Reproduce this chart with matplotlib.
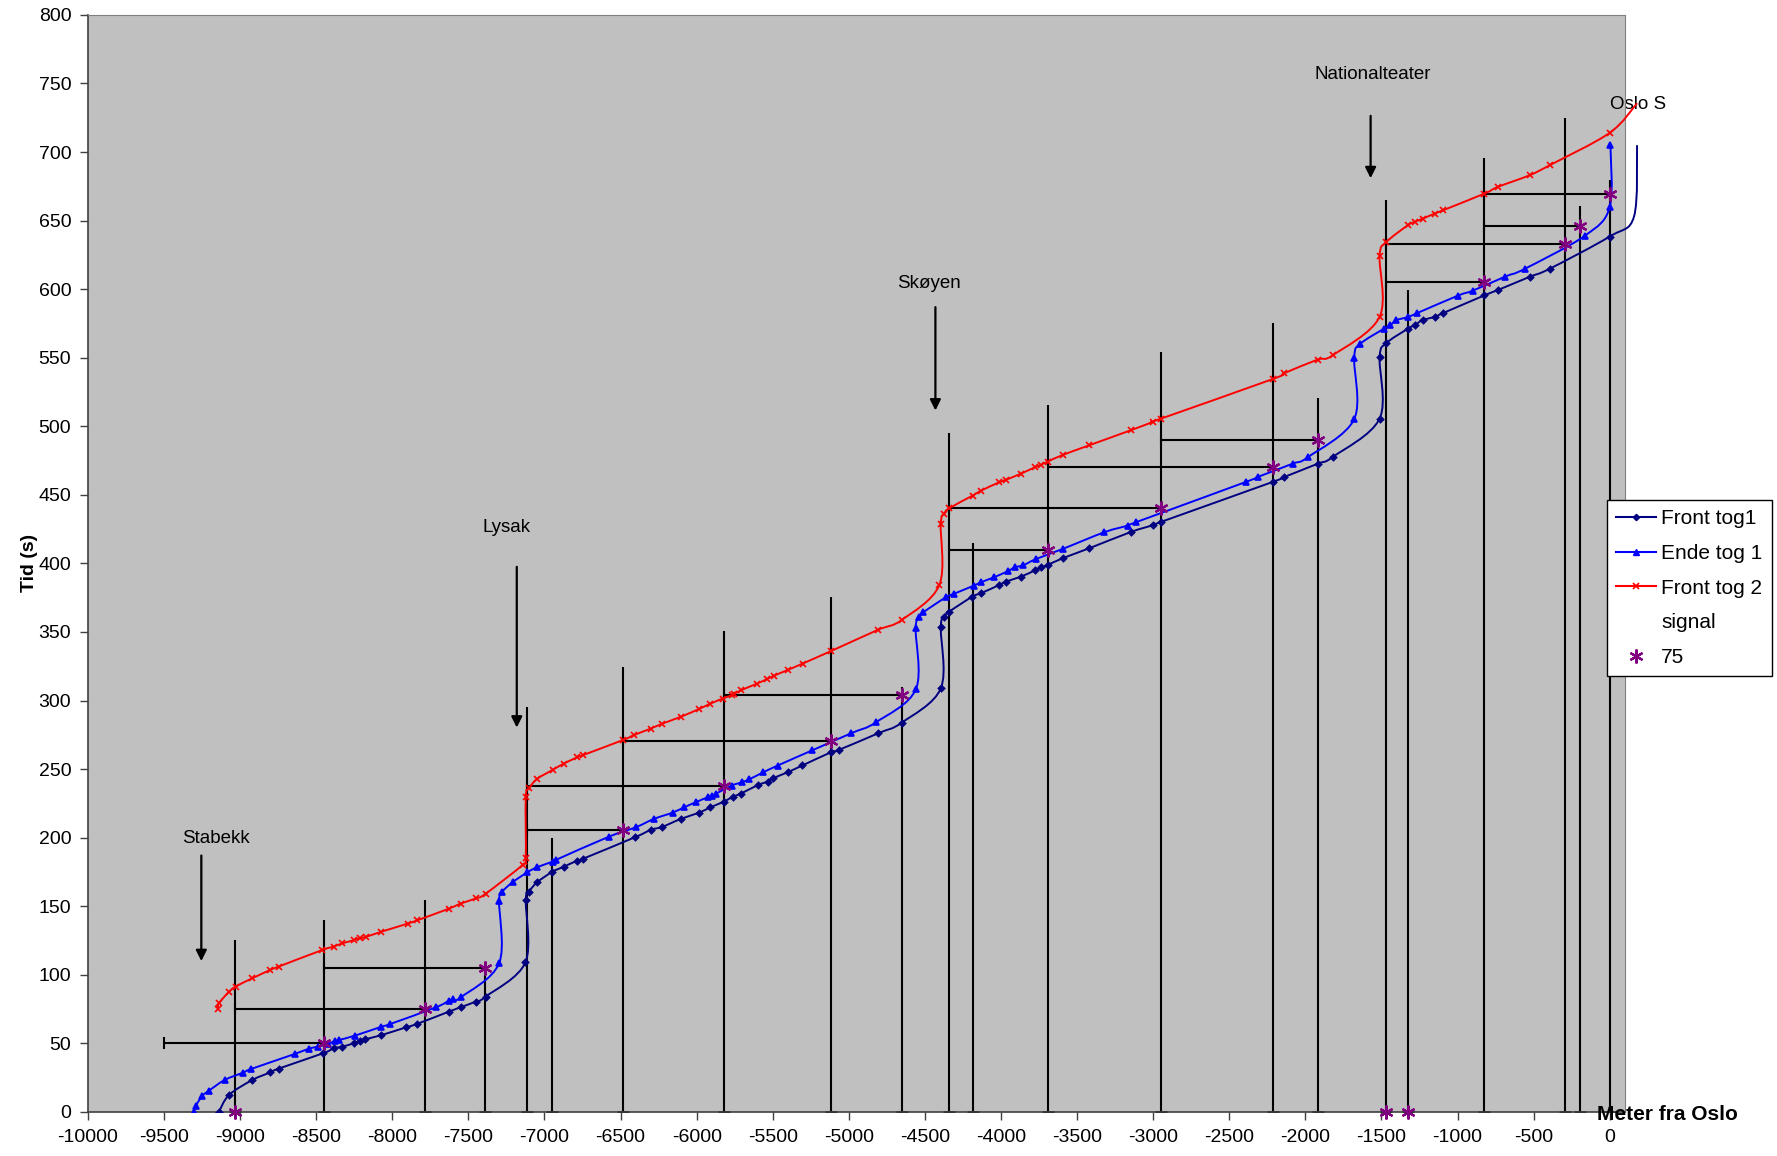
import numpy as np
import matplotlib
matplotlib.use("Agg")
import matplotlib.pyplot as plt
from matplotlib.path import Path
from matplotlib.patches import PathPatch
from matplotlib.lines import Line2D

plt.rcParams['font.family'] = ['Liberation Sans', 'DejaVu Sans']
plt.rcParams['axes.unicode_minus'] = False

# Front tog1: posisjon (m fra Oslo) og tid (s)
front1_x = [-9139, -9073, -8920, -8801, -8747, -8455, -8385, -8328, -8254, -8214, -8181,
            -8076, -7907, -7837, -7627, -7550, -7451, -7386, -7125, -7123, -7101, -7048,
            -6950, -6873, -6783, -6750, -6406, -6301, -6226, -6104, -5983, -5909, -5821,
            -5764, -5711, -5595, -5534, -5497, -5402, -5305, -5117, -5066, -4806, -4652,
            -4395, -4396, -4374, -4339, -4188, -4131, -4011, -3969, -3868, -3776, -3736,
            -3693, -3594, -3419, -3145, -3002, -2948, -2213, -2137, -1917, -1819, -1512,
            -1512, -1468, -1328, -1278, -1230, -1151, -1096, -823, -734, -526, -394, 0,
            160, 180]
front1_t = [0.2, 12.4, 23.3, 28.9, 31.6, 42.8, 46.4, 47.6, 50.1, 52.0, 53.0,
            55.9, 61.8, 64.2, 73.2, 76.4, 80.5, 84.1, 109.2, 154.6, 160.7, 167.5,
            175.0, 178.9, 183.3, 184.5, 200.3, 205.7, 207.9, 213.7, 218.3, 222.2, 226.3,
            229.7, 232.1, 238.5, 240.9, 243.4, 247.7, 252.7, 262.3, 264.0, 276.2, 283.9,
            309.0, 353.5, 360.8, 364.9, 375.8, 378.3, 384.3, 386.7, 390.4, 395.0, 397.1,
            398.9, 403.8, 411.1, 423.0, 427.9, 430.3, 459.5, 463.1, 472.8, 477.7, 505.6,
            550.6, 560.6, 571.0, 574.0, 577.4, 579.8, 582.5, 595.5, 599.4, 609.0, 614.9, 638.4,
            653.0, 705.0]

# Ende tog 1
ende1_x = [-9306, -9292, -9249, -9205, -9102, -8981, -8926, -8641, -8547, -8488, -8422,
           -8378, -8350, -8247, -8076, -8012, -7714, -7627, -7601, -7550, -7298, -7298,
           -7276, -7210, -7112, -7048, -6947, -6925, -6575, -6400, -6281, -6158, -6082,
           -6005, -5928, -5902, -5876, -5770, -5704, -5654, -5562, -5468, -5241, -4984,
           -4821, -4559, -4561, -4537, -4510, -4361, -4306, -4177, -4131, -4044, -3956,
           -3908, -3853, -3770, -3594, -3320, -3167, -3112, -2389, -2312, -2082, -1983,
           -1679, -1679, -1639, -1486, -1442, -1402, -1328, -1266, -997, -898, -686,
           -559, -164, 0, 5]
ende1_t = [0.0, 4.4, 11.7, 15.5, 23.3, 28.7, 31.4, 42.3, 46.2, 47.6, 49.6,
           51.8, 52.5, 55.6, 62.0, 64.2, 76.3, 81.2, 82.2, 83.6, 108.4, 153.9,
           160.7, 167.5, 174.8, 178.5, 182.5, 183.8, 200.8, 207.6, 213.7, 218.3, 222.2,
           225.9, 229.5, 230.5, 231.9, 238.0, 240.4, 242.6, 247.7, 252.6, 263.7, 276.2,
           284.2, 308.3, 352.8, 360.8, 364.4, 375.4, 378.0, 383.9, 386.3, 390.0, 394.3,
           397.2, 398.7, 403.2, 410.6, 422.8, 427.6, 430.1, 459.5, 463.1, 472.8, 477.5,
           505.2, 550.1, 560.1, 571.0, 573.7, 577.4, 579.6, 582.5, 595.3, 599.0, 609.2,
           614.8, 638.9, 659.8, 705.0]

# Front tog 2
front2_x = [-9146, -9139, -9073, -9030, -8920, -8801, -8747, -8460, -8385, -8328, -8254,
            -8214, -8175, -8076, -7900, -7835, -7627, -7550, -7451, -7386, -7144, -7123,
            -7123, -7101, -7048, -6947, -6872, -6783, -6750, -6482, -6413, -6303, -6227,
            -6106, -5983, -5909, -5830, -5770, -5755, -5709, -5602, -5536, -5490, -5402,
            -5303, -5119, -4810, -4652, -4405, -4396, -4374, -4339, -4186, -4131, -4011,
            -3969, -3868, -3776, -3737, -3693, -3594, -3419, -3145, -3002, -2948, -2213,
            -2139, -1920, -1819, -1512, -1512, -1468, -1327, -1282, -1227, -1151, -1096,
            -823, -734, -526, -394, 0, 180]
front2_t = [74.9, 79.3, 87.7, 91.4, 97.5, 103.6, 106.0, 118.1, 120.6, 123.0, 125.2,
            126.7, 127.6, 131.3, 137.3, 139.8, 148.3, 152.0, 155.7, 159.2, 180.1, 185.0,
            229.5, 236.1, 242.9, 249.4, 254.1, 258.7, 260.1, 271.3, 274.8, 279.5, 283.1,
            288.1, 293.9, 297.8, 301.4, 303.9, 304.6, 307.5, 312.4, 315.8, 318.2, 322.3,
            327.0, 336.0, 351.5, 358.8, 384.3, 428.8, 436.1, 440.3, 449.5, 453.1, 459.2,
            460.9, 465.5, 470.2, 471.9, 474.3, 479.1, 486.2, 497.2, 503.2, 505.6, 534.5,
            538.7, 548.6, 551.9, 579.8, 624.5, 634.3, 646.6, 649.0, 651.5, 655.1, 657.5,
            669.7, 674.6, 683.1, 690.4, 714.0, 735.6]

# signaler: posisjon og høyde på signalstreken
signal_x = [-9031, -8450, -7782, -7388, -7116, -6952, -6483, -5820, -5119, -4650, -4344,
            -4186, -3693, -2948, -2213, -1920, -1468, -1326, -824, -296, -197, 0]
signal_top = [125.4, 140.0, 154.6, 105.0, 295.2, 199.6, 324.8, 350.6, 375.4, 310.2, 495.0,
              415.0, 515.6, 554.5, 575.4, 520.5, 665.0, 599.5, 695.7, 724.7, 660.3, 679.7]

# 75-punkter: blokk fra signal (start) til punkt
blokk_start = [-9500, -9031, -8450, -7116, -7116, -6483, -5820, -4344, -4344, -3693,
               -2948, -1468, -1468, -824, -824]
blokk_x = [-8450, -7782, -7388, -6483, -5821, -5119, -4650, -3693, -2948, -2213,
           -1920, -824, -296, -197, 0]
blokk_t = [50.1, 75.3, 104.8, 205.5, 238.0, 270.8, 304.1, 409.9, 440.3, 470.2,
           490.0, 605.4, 633.3, 645.9, 669.5]
bunn_x = [-9031, -1468, -1326]

stasjoner = ['Stabekk', 'Lysak', 'Skøyen', 'Nationalteater', 'Oslo S']
stasjon_x = [-9161, -7248, -4471, -1558, 189]
stasjon_t = [199.3, 425.9, 604.4, 756.4, 735.0]
pil_x = [-9255, -7182, -4431, -1571]
pil_fra = [187.0, 397.5, 586.9, 726.4]
pil_til = [110.0, 280.3, 511.5, 680.9]


def smooth_path(xs, ys):
    # glatt kurve gjennom punktene (kubisk Bezier, Catmull-Rom)
    p = np.column_stack([xs, ys]).astype(float)
    n = len(p)
    verts = [p[0]]
    codes = [Path.MOVETO]
    for i in range(n - 1):
        a = p[max(i - 1, 0)]
        b = p[i]
        c = p[i + 1]
        d = p[min(i + 2, n - 1)]
        verts += [b + (c - a) / 6, c - (d - b) / 6, c]
        codes += [Path.CURVE4] * 3
    return Path(verts, codes)


fig = plt.figure(figsize=(17.77, 11.56), dpi=100)
ax = fig.add_axes([0.0495, 0.0381, 0.8649, 0.9490])
ax.set_facecolor('#C0C0C0')

series = [
    (front1_x, front1_t, '#000080', 'D', 3.2, 'Front tog1'),
    (ende1_x, ende1_t, '#0000FF', '^', 4.0, 'Ende tog 1'),
    (front2_x, front2_t, '#FF0000', 'x', 4.5, 'Front tog 2'),
]
for xs, ts, col, mk, ms, lab in series:
    ax.add_patch(PathPatch(smooth_path(xs, ts), fill=False, edgecolor=col,
                           lw=1.4, clip_on=False, zorder=3))
    ax.plot(xs, ts, linestyle='none', marker=mk, markersize=ms, color=col,
            mew=1.2, zorder=4)

ax.vlines(signal_x, 0, signal_top, color='black', lw=1.5, zorder=2)
ax.plot(signal_x, np.zeros(len(signal_x)), linestyle='none', marker='_',
        markersize=9, mew=2, color='black', zorder=2)
ax.hlines(blokk_t, blokk_start, blokk_x, color='black', lw=1.5, zorder=2)
ax.plot(blokk_start, blokk_t, linestyle='none', marker='|', markersize=9,
        mew=1.5, color='black', zorder=2)

star = (6, 2, 0)
ax.plot(blokk_x, blokk_t, linestyle='none', marker=star, markersize=10,
        mew=1.6, color='#800080', zorder=5)
ax.plot(bunn_x, np.zeros(len(bunn_x)), linestyle='none', marker=star,
        markersize=10, mew=1.6, color='#800080', zorder=5, clip_on=False)

for navn, x, t in zip(stasjoner, stasjon_x, stasjon_t):
    ax.text(x, t, navn, ha='center', va='center', fontsize=13.5, zorder=2)
for x, y0, y1 in zip(pil_x, pil_fra, pil_til):
    ax.annotate('', xy=(x, y1), xytext=(x, y0),
                arrowprops=dict(arrowstyle='-|>', color='black', lw=1.6,
                                mutation_scale=16, shrinkA=0, shrinkB=0))

ax.set_xlim(-10000, 100)
ax.set_ylim(0, 800)
ax.set_xticks(np.arange(-10000, 1, 500))
ax.set_yticks(np.arange(0, 801, 50))
ax.tick_params(labelsize=14, length=6, width=1, color='#404040', pad=6)
for side in ['left', 'bottom']:
    ax.spines[side].set_color('#404040')
    ax.spines[side].set_linewidth(1.2)
for side in ['top', 'right']:
    ax.spines[side].set_color('#808080')

fig.text(0.0165, 0.513, 'Tid (s)', rotation=90, ha='center', va='center',
         fontsize=14, fontweight='bold')
fig.text(0.9385, 0.0363, 'Meter fra Oslo', ha='center', va='center',
         fontsize=15, fontweight='bold')

handles = [
    Line2D([], [], color='#000080', marker='D', markersize=3.2, lw=1.5),
    Line2D([], [], color='#0000FF', marker='^', markersize=4, lw=1.5),
    Line2D([], [], color='#FF0000', marker='x', markersize=4.5, mew=1.2, lw=1.5),
    Line2D([], [], linestyle='none'),
    Line2D([], [], linestyle='none', marker=star, markersize=10, mew=1.6, color='#800080'),
]
labels = ['Front tog1', 'Ende tog 1', 'Front tog 2', 'signal', '75']
leg = fig.legend(handles, labels, loc='upper left', bbox_to_anchor=(0.9043, 0.5675),
                 frameon=True, fancybox=False, edgecolor='black', framealpha=1,
                 fontsize=15, handlelength=1.9, handletextpad=0.25, labelspacing=0.75,
                 borderpad=0.45, borderaxespad=0)
leg.get_frame().set_linewidth(1.0)

fig.savefig('out.png', dpi=100)
